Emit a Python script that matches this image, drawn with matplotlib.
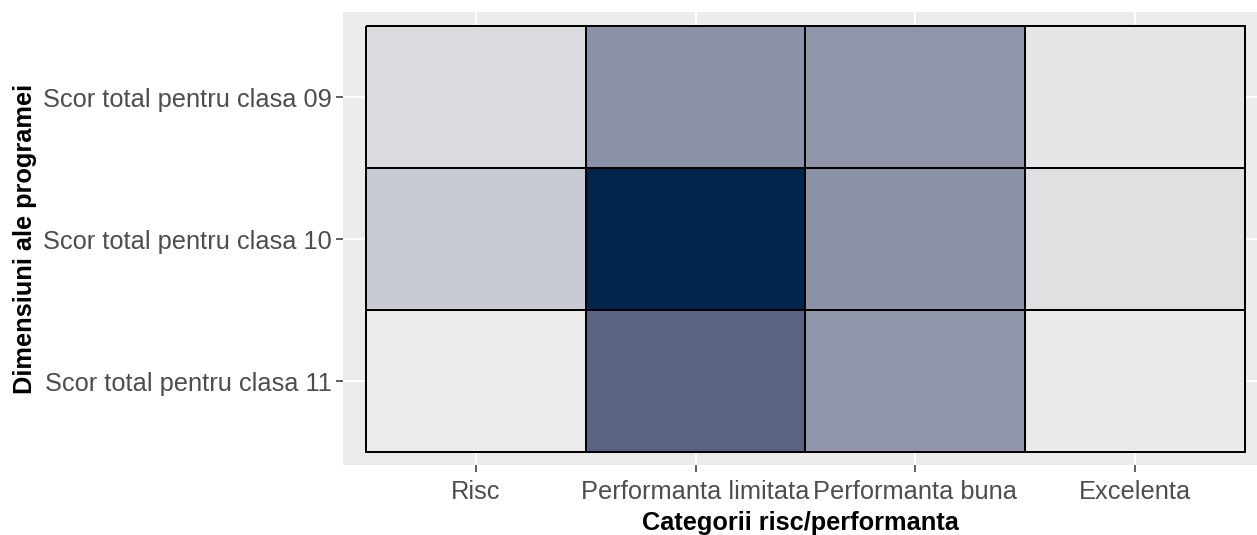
import numpy as np
import matplotlib.pyplot as plt
from matplotlib.colors import LinearSegmentedColormap

plt.rcParams['font.family'] = ['Liberation Sans', 'DejaVu Sans']

# categories and values (share of students, %)
categorii = ['Risc', 'Performanta limitata', 'Performanta buna', 'Excelenta']
dimensiuni = ['Scor total pentru clasa 09', 'Scor total pentru clasa 10',
              'Scor total pentru clasa 11']
clasa_09 = [9, 50, 48, 3]
clasa_10 = [18, 100, 50, 6]
clasa_11 = [0, 69, 48, 1]

valori = np.array([clasa_09, clasa_10, clasa_11])

# grey -> navy gradient, like the ggplot fill scale
cmap = LinearSegmentedColormap.from_list(
    'gri_navy', [(0, '#EBEBEB'), (0.5, '#8C91A6'), (0.7, '#566180'),
                 (1, '#00264D')])

fig = plt.figure(figsize=(12.57, 5.35), dpi=100)
ax = fig.add_axes([343 / 1257, 1 - 465 / 535, 914 / 1257, 453 / 535])
ax.set_facecolor('#EBEBEB')

# white major grid behind tiles
for i in range(len(categorii)):
    ax.axvline(i, color='white', lw=1.3, zorder=0)
for j in range(len(dimensiuni)):
    ax.axhline(j, color='white', lw=1.3, zorder=0)

xe = np.arange(len(categorii) + 1) - 0.5
ye = np.arange(len(dimensiuni) + 1) - 0.5
ax.pcolormesh(xe, ye, valori, cmap=cmap, vmin=0, vmax=100,
              edgecolors='black', linewidth=1.2, zorder=2)

ax.set_xlim(-0.5 - 0.105, 3.5 + 0.055)
ax.set_ylim(2.5 + 0.09, -0.5 - 0.1)

ax.set_xticks(range(len(categorii)))
ax.set_xticklabels(categorii)
ax.set_yticks(range(len(dimensiuni)))
ax.set_yticklabels(dimensiuni)
ax.tick_params(axis='both', colors='#333333', labelcolor='#4D4D4D',
               labelsize=18.3, length=5, width=1.1)
ax.tick_params(axis='x', pad=6)
ax.tick_params(axis='y', pad=3)

for s in ax.spines.values():
    s.set_visible(False)

ax.set_xlabel('Categorii risc/performanta', fontsize=18.3, fontweight='bold',
              labelpad=5)
ax.set_ylabel('Dimensiuni ale programei', fontsize=18.3, fontweight='bold',
              labelpad=4)

fig.savefig('out.png', dpi=100)
